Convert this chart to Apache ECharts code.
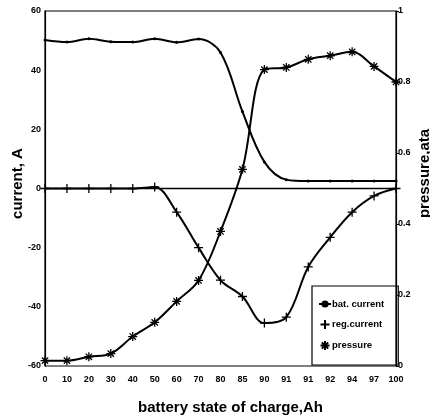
<!DOCTYPE html>
<html>
<head>
<meta charset="utf-8">
<script src="https://cdn.jsdelivr.net/npm/echarts@6/dist/echarts.min.js"></script>
<style>
  html, body { margin: 0; padding: 0; background: #fff; }
  #chart { width: 430px; height: 418px; }
</style>
</head>
<body>
<div id="chart"></div>
<script>
// state of charge (Ah) as printed under the axis
var charge = ['0', '10', '20', '30', '40', '50', '60', '70', '80', '85', '90', '91', '91', '92', '94', '97', '100'];
var batCurrent = [50.2, 49.5, 50.6, 49.6, 49.5, 50.6, 49.4, 50.5, 46, 26, 9, 3, 2.5, 2.5, 2.5, 2.5, 2.5];
var regCurrent = [0, 0, 0, 0, 0, 0.5, -8, -20, -31, -36.5, -45.5, -43.5, -26.5, -16.5, -8, -2.5, 0];
var pressure = [0.015, 0.015, 0.026, 0.035, 0.083, 0.123, 0.182, 0.241, 0.379, 0.554, 0.835, 0.841, 0.864, 0.874, 0.885, 0.844, 0.8];

var font = 'Liberation Sans, Arial, sans-serif';
var plus = 'path://M5,0L5,10M0,5L10,5';
var star = 'path://M5,0L5,10M0,5L10,5M1.5,1.5L8.5,8.5M1.5,8.5L8.5,1.5';

var chart = echarts.init(document.getElementById('chart'));

var tickLabel = { color: '#000', fontFamily: font, fontWeight: 'bold', fontSize: 9 };
function nameStyle(shift) {
    return { color: '#000', fontFamily: font, fontWeight: 'bold', fontSize: 15, padding: [0, 0, 0, shift] };
}

var option = {
    animation: false,
    grid: {
        left: 45, right: 34, top: 11, bottom: 52,
        outerBoundsMode: 'none',
        containLabel: false,
        show: true, borderColor: '#000', borderWidth: 1.2
    },
    legend: {
        orient: 'vertical',
        left: 312, top: 286,
        padding: [13, 14, 14, 6],
        itemGap: 10,
        itemWidth: 12, itemHeight: 9,
        borderColor: '#000', borderWidth: 1.2,
        textStyle: { color: '#000', fontFamily: font, fontWeight: 'bold', fontSize: 9.5, padding: [0, 0, 0, -4] },
        data: [
            { name: 'bat. current' },
            { name: 'reg.current', icon: plus },
            { name: 'pressure', icon: star }
        ]
    },
    xAxis: {
        type: 'category',
        data: charge,
        boundaryGap: false,
        name: 'battery state of charge,Ah',
        nameLocation: 'middle',
        nameGap: 34,
        nameMoveOverlap: false,
        nameTextStyle: nameStyle(20),
        axisLine: { lineStyle: { color: '#000', width: 1.2 } },
        axisTick: { show: false },
        axisLabel: Object.assign({ interval: 0, margin: 9 }, tickLabel),
        splitLine: { show: false }
    },
    yAxis: [{
        type: 'value',
        min: -60, max: 60, interval: 20,
        name: 'current, A',
        nameLocation: 'middle',
        nameRotate: 90,
        nameGap: 20,
        nameMoveOverlap: false,
        nameTextStyle: nameStyle(10),
        axisLine: { show: true, onZero: false, lineStyle: { color: '#000', width: 1.2 } },
        axisTick: { show: false },
        axisLabel: Object.assign({ margin: 4 }, tickLabel),
        splitLine: { show: false }
    }, {
        type: 'value',
        min: 0, max: 1, interval: 0.2,
        position: 'right',
        name: 'pressure,ata',
        nameLocation: 'middle',
        nameRotate: 90,
        nameGap: 21,
        nameMoveOverlap: false,
        nameTextStyle: nameStyle(30),
        axisLine: { show: true, lineStyle: { color: '#000', width: 1.2 } },
        axisTick: { show: true, length: 3, inside: false, lineStyle: { color: '#000' } },
        axisLabel: Object.assign({ margin: 2, formatter: function (v) { return v === 0 || v === 1 ? String(v) : v.toFixed(1); } }, tickLabel),
        splitLine: { show: false }
    }],
    series: [{
        name: 'bat. current',
        type: 'line',
        data: batCurrent,
        smooth: 0.35,
        symbol: 'circle',
        symbolSize: 3,
        lineStyle: { color: '#000', width: 2 },
        itemStyle: { color: '#000' },
        markLine: {
            silent: true,
            symbol: 'none',
            label: { show: false },
            lineStyle: { color: '#000', width: 1.3, type: 'solid' },
            data: [{ yAxis: 0 }]
        }
    }, {
        name: 'reg.current',
        type: 'line',
        data: regCurrent,
        smooth: 0.35,
        symbol: plus,
        symbolSize: 9,
        lineStyle: { color: '#000', width: 2 },
        itemStyle: { color: '#000', borderColor: '#000', borderWidth: 1.3 }
    }, {
        name: 'pressure',
        type: 'line',
        yAxisIndex: 1,
        data: pressure,
        smooth: 0.35,
        symbol: star,
        symbolSize: 9,
        lineStyle: { color: '#000', width: 2 },
        itemStyle: { color: '#000', borderColor: '#000', borderWidth: 1.3 }
    }]
};

chart.setOption(option);
</script>
</body>
</html>
